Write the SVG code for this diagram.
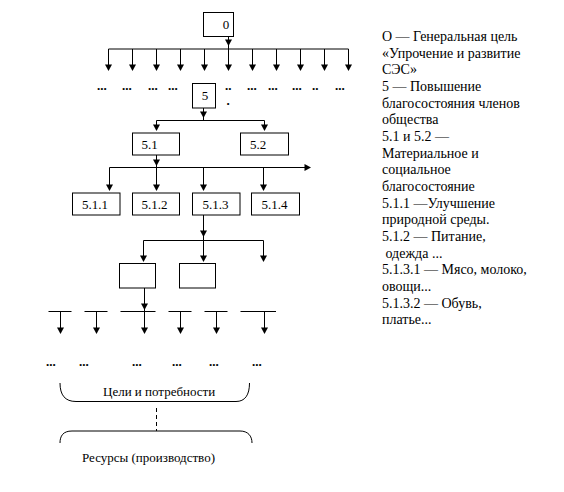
<svg xmlns="http://www.w3.org/2000/svg" xmlns:xlink="http://www.w3.org/1999/xlink" width="564" height="492" viewBox="0 0 564 492">
<style>
.box{fill:#fff;stroke:#000;stroke-width:1}
.t{font-family:"Liberation Serif","Times New Roman",serif;font-size:13px;fill:#000}
.d{font-family:"Liberation Serif","Times New Roman",serif;font-size:13px;font-weight:bold;fill:#000}
.ln{stroke:#000;stroke-width:1;fill:none}
.r{font-family:"Liberation Serif","Times New Roman",serif;font-size:14px;fill:#000}
</style>
<defs>
<polygon id="ad" points="-3.5,-6.5 3.5,-6.5 0,0" fill="#000"/>
<polygon id="ar" points="-6.5,-3.5 -6.5,3.5 0,0" fill="#000"/>
</defs>
<rect width="564" height="492" fill="#fff"/>

<g id="connectors" class="ln">
<path d="M228.5,36 V49"/>
<path d="M108.5,49 H348.5"/>
<path d="M108.5,49V70 M132.5,49V70 M156.5,49V70 M180.5,49V70 M204.5,49V70 M228.5,49V70 M252.5,49V70 M276.5,49V70 M300.5,49V70 M324.5,49V70 M348.5,49V70"/>
<path d="M203.5,108 V120.5 M156.5,120.5 H264.5 M156.5,120.5V130 M264.5,120.5V130"/>
<path d="M156.5,155 V167.5 M109.5,167.5 H310 M109.5,167.5V190 M156.5,167.5V190 M203.5,167.5V190 M263.5,167.5V190"/>
<path d="M203.5,215 V240.5 M143.5,240.5 H263.5 M143.5,240.5V261 M203.5,240.5V261 M263.5,240.5V261"/>
<path d="M144.5,288 V311.5"/>
<path d="M48.5,311.5H71.5 M60.5,311.5V333 M84.5,311.5H107.5 M96.5,311.5V333 M120.5,311.5H155.5 M144.5,311.5V333 M168.5,311.5H191.5 M180.5,311.5V333 M204.5,311.5H227.5 M216.5,311.5V333 M240.5,311.5H276 M264.5,311.5V333"/>
<path d="M60,383 C60,395 65,401.5 76,401.5 H236 C245,401.5 249.5,395 249.5,383"/>
<path d="M156.5,408 V431" stroke-dasharray="4,3"/>
<path d="M60,443 C60,436 63,431 72,431 H240 C248,431 252,436 252,443"/>
<g stroke="none">
<use xlink:href="#ad" x="228.5" y="46"/>
<use xlink:href="#ad" x="108.5" y="71"/><use xlink:href="#ad" x="132.5" y="71"/><use xlink:href="#ad" x="156.5" y="71"/><use xlink:href="#ad" x="180.5" y="71"/><use xlink:href="#ad" x="204.5" y="71"/><use xlink:href="#ad" x="228.5" y="71"/><use xlink:href="#ad" x="252.5" y="71"/><use xlink:href="#ad" x="276.5" y="71"/><use xlink:href="#ad" x="300.5" y="71"/><use xlink:href="#ad" x="324.5" y="71"/><use xlink:href="#ad" x="348.5" y="71"/>
<use xlink:href="#ad" x="203.5" y="118"/>
<use xlink:href="#ad" x="156.5" y="131"/><use xlink:href="#ad" x="264.5" y="131"/>
<use xlink:href="#ad" x="156.5" y="166"/>
<use xlink:href="#ar" x="311" y="167.5"/>
<use xlink:href="#ad" x="109.5" y="191"/><use xlink:href="#ad" x="156.5" y="191"/><use xlink:href="#ad" x="203.5" y="191"/><use xlink:href="#ad" x="263.5" y="191"/>
<use xlink:href="#ad" x="203.5" y="237"/>
<use xlink:href="#ad" x="143.5" y="262"/><use xlink:href="#ad" x="203.5" y="262"/><use xlink:href="#ad" x="263.5" y="262"/>
<use xlink:href="#ad" x="144.5" y="310"/>
<use xlink:href="#ad" x="60.5" y="334"/><use xlink:href="#ad" x="96.5" y="334"/><use xlink:href="#ad" x="144.5" y="334"/><use xlink:href="#ad" x="180.5" y="334"/><use xlink:href="#ad" x="216.5" y="334"/><use xlink:href="#ad" x="264.5" y="334"/>
</g>
</g>

<g id="node-0"><rect class="box" x="203.5" y="12.5" width="30" height="24"/><text class="t" x="226" y="29" text-anchor="middle">0</text></g>
<g id="node-5"><rect class="box" x="192.5" y="83.5" width="23" height="24.5"/><text class="t" x="205" y="100" text-anchor="middle">5</text></g>
<g id="node-5-1"><rect class="box" x="132.5" y="133" width="47" height="22"/><text class="t" x="141.5" y="149">5.1</text></g>
<g id="node-5-2"><rect class="box" x="240.5" y="133" width="48" height="22"/><text class="t" x="250" y="149">5.2</text></g>
<g id="node-5-1-1"><rect class="box" x="72.5" y="193" width="47.5" height="22"/><text class="t" x="82" y="209">5.1.1</text></g>
<g id="node-5-1-2"><rect class="box" x="132.5" y="193" width="47" height="22"/><text class="t" x="141.5" y="209">5.1.2</text></g>
<g id="node-5-1-3"><rect class="box" x="192.5" y="193" width="47.5" height="22"/><text class="t" x="202.5" y="209">5.1.3</text></g>
<g id="node-5-1-4"><rect class="box" x="251.5" y="193" width="48" height="22"/><text class="t" x="261.5" y="209">5.1.4</text></g>
<g id="node-5-1-3-1"><rect class="box" x="119.5" y="263.5" width="36" height="24.5"/></g>
<g id="node-5-1-3-2"><rect class="box" x="179.5" y="263.5" width="36" height="24.5"/></g>

<g id="dots">
<text class="d" x="97" y="90">...</text>
<text class="d" x="122" y="90">...</text>
<text class="d" x="148" y="90">...</text>
<text class="d" x="168" y="90">...</text>
<text class="d" x="225" y="90">..</text>
<text class="d" x="226.5" y="105">.</text>
<text class="d" x="247" y="90">...</text>
<text class="d" x="268" y="90">...</text>
<text class="d" x="292" y="90">...</text>
<text class="d" x="312" y="90">..</text>
<text class="d" x="335" y="90">...</text>
<text class="d" x="46" y="366">...</text>
<text class="d" x="79" y="366">...</text>
<text class="d" x="132" y="366">...</text>
<text class="d" x="172" y="366">...</text>
<text class="d" x="209" y="366">...</text>
<text class="d" x="252" y="366">...</text>
</g>

<g id="needs"><text class="t" x="103" y="396">Цели и потребности</text></g>
<g id="resources"><text class="t" x="82" y="462">Ресурсы (производство)</text></g>

<g id="legend" class="r">
<text x="382" y="41">О — Генеральная цель</text>
<text x="382" y="57.7">«Упрочение и развитие</text>
<text x="382" y="74.3">СЭС»</text>
<text x="382" y="91">5 — Повышение</text>
<text x="382" y="107.7">благосостояния членов</text>
<text x="382" y="124.3">общества</text>
<text x="382" y="141">5.1 и 5.2 —</text>
<text x="382" y="157.7">Материальное и</text>
<text x="382" y="174.3">социальное</text>
<text x="382" y="191">благосостояние</text>
<text x="382" y="207.7">5.1.1 —Улучшение</text>
<text x="382" y="224.3">природной среды.</text>
<text x="382" y="241">5.1.2 — Питание,</text>
<text x="382" y="257.7" xml:space="preserve"> одежда ...</text>
<text x="382" y="274.3">5.1.3.1 — Мясо, молоко,</text>
<text x="382" y="291">овощи...</text>
<text x="382" y="307.7">5.1.3.2 — Обувь,</text>
<text x="382" y="324.3">платье...</text>
</g>
</svg>
